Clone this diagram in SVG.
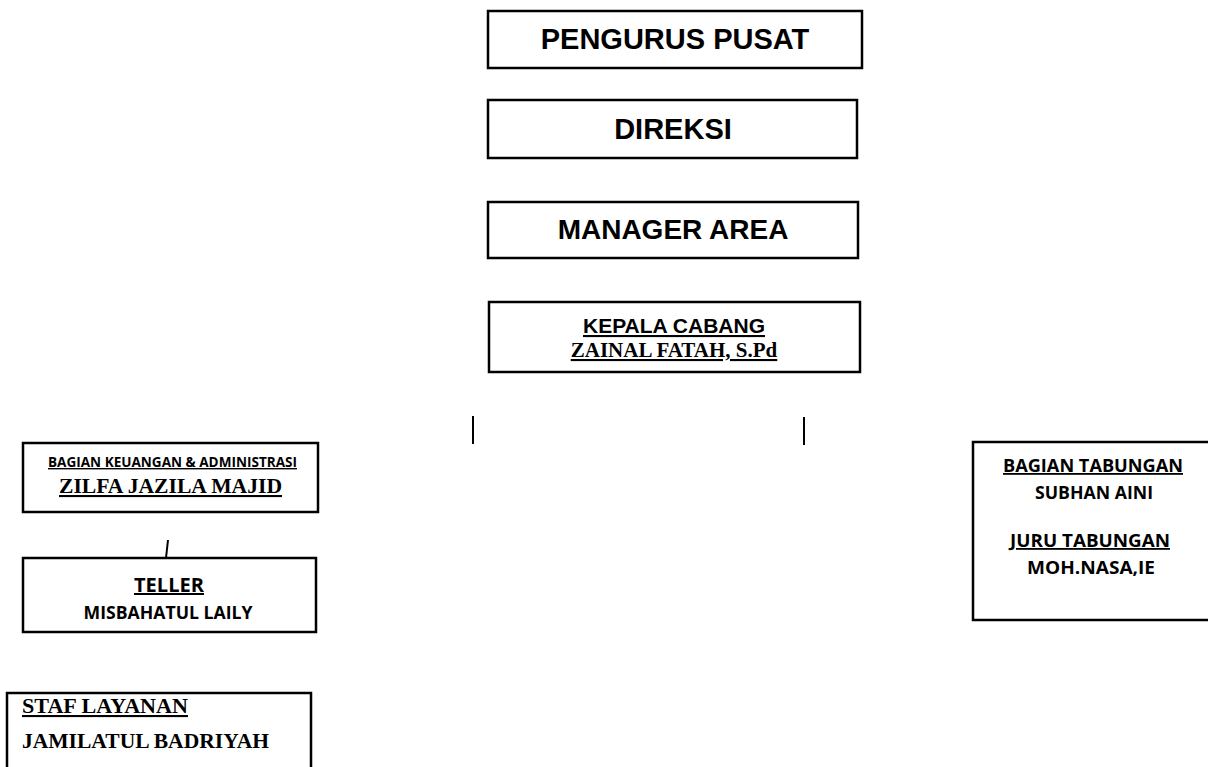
<svg xmlns="http://www.w3.org/2000/svg" width="1208" height="767" viewBox="0 0 1208 767">
<style>
.box{fill:#fff;stroke:#000;stroke-width:2.5}
.ar{font-family:"Liberation Sans",Arial,sans-serif;font-weight:bold;fill:#000}
.tm{font-family:"Liberation Serif","Times New Roman",serif;font-weight:bold;fill:#000}
.cb{font-family:"Open Sans","Noto Sans",sans-serif;font-weight:bold;fill:#000}
.u{text-decoration:underline}
.ln{stroke:#000;stroke-width:2;fill:none}
</style>
<rect width="1208" height="767" fill="#fff"/>
<g id="connectors">
<line class="ln" x1="473" y1="416" x2="473" y2="444"/>
<line class="ln" x1="804" y1="417" x2="804" y2="445"/>
<line class="ln" x1="168" y1="540" x2="166" y2="558"/>
</g>
<g id="pengurus-pusat">
<rect class="box" x="488" y="11" width="374" height="57"/>
<text class="ar" x="675" y="49" font-size="29" text-anchor="middle">PENGURUS PUSAT</text>
</g>
<g id="direksi">
<rect class="box" x="488" y="100" width="369" height="58"/>
<text class="ar" x="673" y="139" font-size="29" text-anchor="middle">DIREKSI</text>
</g>
<g id="manager-area">
<rect class="box" x="488" y="202" width="370" height="56"/>
<text class="ar" x="673" y="239" font-size="28" text-anchor="middle">MANAGER AREA</text>
</g>
<g id="kepala-cabang">
<rect class="box" x="489" y="302" width="371" height="70"/>
<text class="ar u" x="674" y="333" font-size="21" text-anchor="middle">KEPALA CABANG</text>
<text class="tm u" x="674" y="357" font-size="21" text-anchor="middle">ZAINAL FATAH, S.Pd</text>
</g>
<g id="bagian-keuangan">
<rect class="box" x="23" y="443" width="295" height="69"/>
<text class="cb u" x="48" y="467" font-size="14" textLength="249" lengthAdjust="spacingAndGlyphs">BAGIAN KEUANGAN &amp; ADMINISTRASI</text>
<text class="tm u" x="59" y="493" font-size="21" textLength="223" lengthAdjust="spacingAndGlyphs">ZILFA JAZILA MAJID</text>
</g>
<g id="teller">
<rect class="box" x="23" y="558" width="293" height="74"/>
<text class="cb u" x="169" y="592" font-size="20" text-anchor="middle" textLength="70" lengthAdjust="spacingAndGlyphs">TELLER</text>
<text class="cb" x="168" y="619" font-size="17" text-anchor="middle" textLength="169" lengthAdjust="spacingAndGlyphs">MISBAHATUL LAILY</text>
</g>
<g id="bagian-tabungan">
<rect class="box" x="973" y="442" width="240" height="178"/>
<text class="cb u" x="1093" y="472" font-size="18" text-anchor="middle" textLength="180" lengthAdjust="spacingAndGlyphs">BAGIAN TABUNGAN</text>
<text class="cb" x="1094" y="499" font-size="17" text-anchor="middle" textLength="118" lengthAdjust="spacingAndGlyphs">SUBHAN AINI</text>
<text class="cb u" x="1090" y="547" font-size="18" text-anchor="middle" textLength="160" lengthAdjust="spacingAndGlyphs">JURU TABUNGAN</text>
<text class="cb" x="1091" y="574" font-size="17" text-anchor="middle" textLength="128" lengthAdjust="spacingAndGlyphs">MOH.NASA,IE</text>
</g>
<g id="staf-layanan">
<rect class="box" x="7" y="693" width="304" height="90"/>
<text class="tm u" x="22" y="713" font-size="21" textLength="166" lengthAdjust="spacingAndGlyphs">STAF LAYANAN</text>
<text class="tm" x="22" y="748" font-size="21" textLength="247" lengthAdjust="spacingAndGlyphs">JAMILATUL BADRIYAH</text>
</g>
</svg>
